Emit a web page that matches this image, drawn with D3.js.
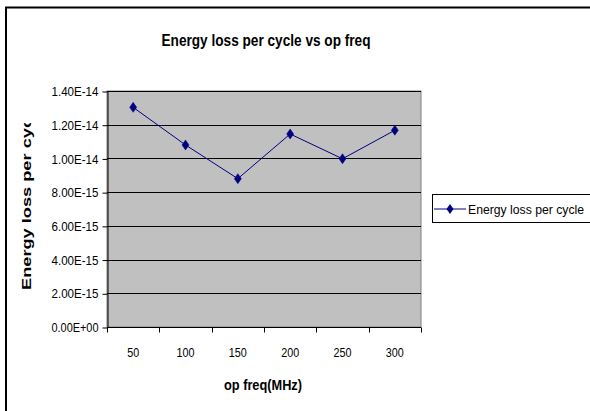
<!DOCTYPE html>
<html>
<head>
<meta charset="utf-8">
<script src="https://cdn.jsdelivr.net/npm/d3@7"></script>
<style>
  html, body { margin: 0; padding: 0; background: #fff; }
  svg { display: block; font-family: "Liberation Sans", Arial, sans-serif; }
</style>
</head>
<body>
<svg id="chart" width="590" height="411"></svg>
<script>
const categories = ["50", "100", "150", "200", "250", "300"];
const energyLoss = [1.303e-14, 1.080e-14, 0.880e-14, 1.145e-14, 0.998e-14, 1.167e-14];
const yTickValues = [0, 2e-15, 4e-15, 6e-15, 8e-15, 1e-14, 1.2e-14, 1.4e-14];
const yTickLabels = ["0.00E+00", "2.00E-15", "4.00E-15", "6.00E-15", "8.00E-15", "1.00E-14", "1.20E-14", "1.40E-14"];
const seriesName = "Energy loss per cycle";
const titleText = "Energy loss per cycle vs op freq";
const xTitle = "op freq(MHz)";
const yTitle = "Energy loss per cyc";

const svg = d3.select("#chart");
const plot = { left: 107, right: 421, top: 91, bottom: 327 };

// outer chart border
svg.append("rect").attr("x", 6).attr("y", 7.5).attr("width", 700).attr("height", 500)
  .attr("fill", "#fff").attr("stroke", "#000").attr("stroke-width", 2);

const x = d3.scaleBand().domain(categories).range([plot.left, plot.right]);
const y = d3.scaleLinear().domain([0, 1.4e-14]).range([plot.bottom, plot.top]);

// plot area
svg.append("rect").attr("x", plot.left).attr("y", plot.top)
  .attr("width", plot.right - plot.left).attr("height", plot.bottom - plot.top)
  .attr("fill", "#c0c0c0").attr("stroke", "#808080").attr("stroke-width", 1);

// gridlines
svg.append("g").selectAll("line").data(yTickValues.slice(1)).join("line")
  .attr("x1", plot.left).attr("x2", plot.right)
  .attr("y1", d => Math.round(y(d)) + 0.5).attr("y2", d => Math.round(y(d)) + 0.5)
  .attr("stroke", "#000").attr("stroke-width", 1);

// y axis
const yAxis = d3.axisLeft(y).tickValues(yTickValues)
  .tickFormat((d, i) => yTickLabels[i]).tickSize(5).tickSizeOuter(0).tickPadding(4);
const gy = svg.append("g").attr("transform", `translate(${plot.left + 0.5},0.5)`).call(yAxis);
gy.select(".domain").attr("stroke", "#000");
gy.selectAll(".tick line").attr("stroke", "#000");
gy.selectAll("text").attr("font-size", 13).attr("fill", "#000")
  .attr("font-family", "'Liberation Sans', Arial, sans-serif")
  .attr("textLength", 47).attr("lengthAdjust", "spacingAndGlyphs");

// x axis with ticks at band boundaries
const gx = svg.append("g").attr("transform", `translate(0,${plot.bottom + 0.5})`);
gx.append("line").attr("x1", plot.left).attr("x2", plot.right).attr("stroke", "#000");
const boundaries = categories.map(c => x(c)).concat([x(categories[categories.length - 1]) + x.bandwidth()]);
gx.selectAll("line.tk").data(boundaries).join("line").attr("class", "tk")
  .attr("x1", d => Math.round(d) + 0.5).attr("x2", d => Math.round(d) + 0.5)
  .attr("y1", 0).attr("y2", 5).attr("stroke", "#000");
gx.selectAll("text").data(categories).join("text")
  .attr("x", d => x(d) + x.bandwidth() / 2).attr("y", 29)
  .attr("text-anchor", "middle").attr("font-size", 13).attr("fill", "#000")
  .attr("textLength", d => d.length * 6).attr("lengthAdjust", "spacingAndGlyphs")
  .text(d => d);

// line
const line = d3.line().x((d, i) => x(categories[i]) + x.bandwidth() / 2).y(d => y(d));
svg.append("path").datum(energyLoss).attr("d", line)
  .attr("fill", "none").attr("stroke", "#000080").attr("stroke-width", 1);

const diamond = "M0,-5L3.5,0L0,5L-3.5,0Z";
svg.append("g").selectAll("path").data(energyLoss).join("path")
  .attr("transform", (d, i) => `translate(${x(categories[i]) + x.bandwidth() / 2},${y(d)})`)
  .attr("d", diamond).attr("fill", "#000080").attr("stroke", "#000080").attr("stroke-width", 0.5);

// title
svg.append("text").attr("x", 266).attr("y", 46).attr("text-anchor", "middle")
  .attr("font-size", 17).attr("font-weight", "bold").attr("fill", "#000")
  .attr("textLength", 209).attr("lengthAdjust", "spacingAndGlyphs")
  .text(titleText);

// x title
svg.append("text").attr("x", 263).attr("y", 390).attr("text-anchor", "middle")
  .attr("font-size", 14).attr("font-weight", "bold").attr("fill", "#000")
  .attr("textLength", 78).attr("lengthAdjust", "spacingAndGlyphs")
  .text(xTitle);

// y title (clipped at top)
svg.append("clipPath").attr("id", "yclip").append("rect")
  .attr("x", 0).attr("y", 123).attr("width", 60).attr("height", 200);
svg.append("g").attr("clip-path", "url(#yclip)")
  .append("text").attr("transform", "translate(31,290) rotate(-90)")
  .attr("text-anchor", "start").attr("font-size", 12).attr("font-weight", "bold")
  .attr("fill", "#000").attr("textLength", 172).attr("lengthAdjust", "spacingAndGlyphs")
  .text(yTitle);

// legend
const lg = svg.append("g");
lg.append("rect").attr("x", 432.5).attr("y", 194.5).attr("width", 200).attr("height", 28)
  .attr("fill", "#fff").attr("stroke", "#000").attr("stroke-width", 1);
lg.append("line").attr("x1", 434).attr("x2", 466).attr("y1", 209).attr("y2", 209)
  .attr("stroke", "#000080").attr("stroke-width", 1);
lg.append("path").attr("transform", "translate(450,209)").attr("d", diamond)
  .attr("fill", "#000080");
lg.append("text").attr("x", 468).attr("y", 213.5).attr("font-size", 12).attr("fill", "#000")
  .attr("textLength", 116).attr("lengthAdjust", "spacingAndGlyphs")
  .text(seriesName);
</script>
</body>
</html>
